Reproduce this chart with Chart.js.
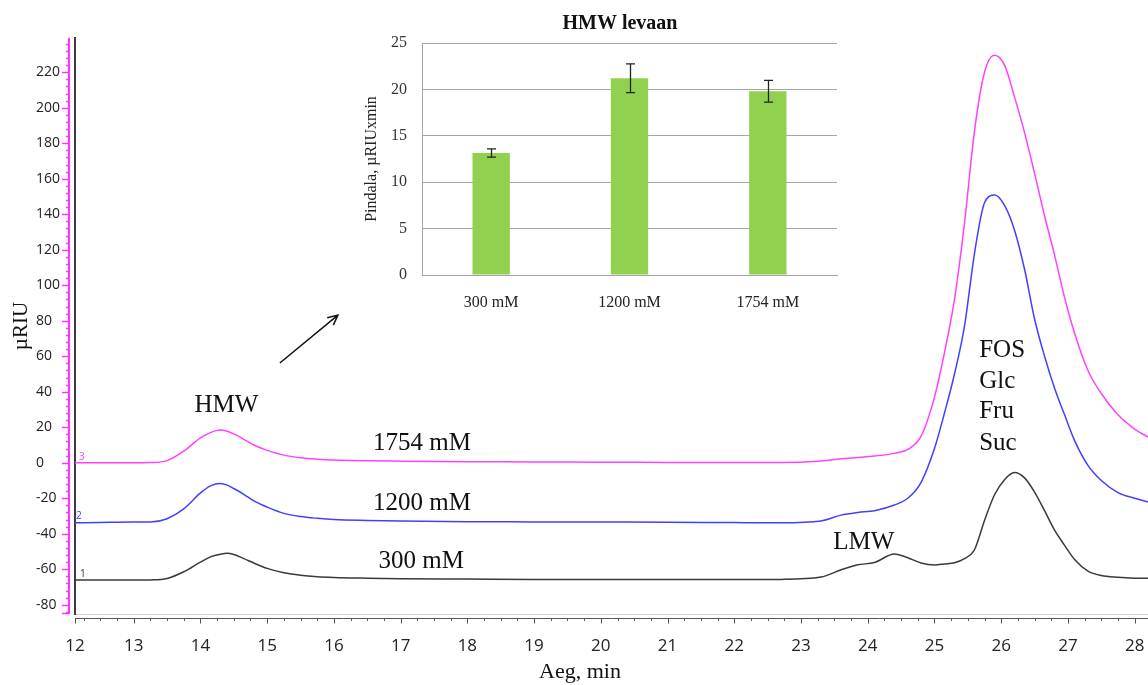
<!DOCTYPE html>
<html>
<head>
<meta charset="utf-8">
<script src="https://cdn.jsdelivr.net/npm/chart.js@4.4.1/dist/chart.umd.min.js"></script>
<style>
  html, body { margin: 0; padding: 0; background: #fff; }
  #wrap { position: relative; width: 1148px; height: 685px; overflow: hidden; }
  #main { position: absolute; left: 0; top: 0; }
  #inset { position: absolute; left: 340px; top: 0; }
</style>
</head>
<body>
<div id="wrap">
  <canvas id="main" width="1148" height="685"></canvas>
  <canvas id="inset" width="520" height="320"></canvas>
</div>
<script>
// --- chromatogram data (retention time, min / signal, µRIU) ---
const times = [12.12, 12.5, 13.0, 13.25, 13.5, 13.75, 14.0, 14.15, 14.3, 14.4, 14.5, 14.65, 14.8, 15.0,
    15.25, 15.5, 15.75, 16.0, 16.5, 17, 18, 19, 20, 21, 22, 22.7, 23.3, 23.6, 23.85, 24.1, 24.4,
    24.6, 24.8, 25.0, 25.15, 25.3, 25.45, 25.6, 25.75, 25.9, 26.05, 26.2, 26.35, 26.5, 26.65,
    26.8, 26.95, 27.1, 27.3, 27.5, 27.75, 28.0, 28.2];

const trace1754 = [0, 0, 0, 0.1, 1.2, 6.5, 14, 17, 18.4, 17.8, 16.3, 13.2, 10, 7,
    4.3, 2.8, 2.0, 1.5, 1.1, 0.9, 0.6, 0.5, 0.3, 0.2, 0.1, 0.1, 1.0, 2.3, 3.0, 3.8, 5.3,
    7.5, 15, 37, 62, 92, 135, 187, 220, 229.6, 224, 206, 186, 163, 139,
    117, 93, 73, 52, 39, 27, 19, 14.5];

const trace1200 = [-33.8, -33.6, -33.4, -33.4, -31.5, -26, -17, -13, -11.7, -12.6, -14.5, -17.8, -21.5, -25,
    -28.5, -30.3, -31.3, -32, -32.5, -32.8, -33.2, -33.3, -33.4, -33.5, -33.7, -33.8, -32.8, -29.5, -28, -27, -23.8,
    -20, -11, 8, 28, 50, 77, 118, 146.5, 150.8, 145, 131, 109, 81, 60,
    42, 27, 12.5, -1.5, -10, -16.8, -20, -22];

const trace300 = [-66.1, -66.1, -66.1, -66.0, -65.2, -61.4, -56, -53, -51.5, -51.0, -51.7, -54.0, -56.5, -59.5,
    -62, -63.4, -64.2, -64.6, -65, -65.3, -65.5, -65.7, -65.8, -65.8, -65.8, -65.7, -64.4, -60.3, -57.5, -56.2, -51.4,
    -53.5, -56.5, -57.6, -57, -56.3, -54, -49, -32.5, -18, -9.5, -5.5, -8.5, -16.5, -27,
    -38, -46.5, -54.5, -61, -63.5, -64.5, -65, -65.1];

const xTicks = [13, 14, 15, 16, 17, 18, 19, 20, 21, 22, 23, 24, 25, 26, 27, 28];

// --- inset: HMW levan peak area ---
const insetLabels = ['300 mM', '1200 mM', '1754 mM'];
const insetArea = [13.15, 21.2, 19.8];
const insetErr = [0.45, 1.55, 1.18];

const serif = 'Liberation Serif, Times New Roman, serif';
const sans = 'Open Sans, Segoe UI, sans-serif';

// text labels placed in data coordinates (min, µRIU)
const notes = [
    { text: 'HMW', t: 14.39, v: 28.6, align: 'center' },
    { text: '1754 mM', t: 17.32, v: 7.2, align: 'center' },
    { text: '1200 mM', t: 17.32, v: -26.6, align: 'center' },
    { text: '300 mM', t: 17.31, v: -59.3, align: 'center' },
    { text: 'LMW', t: 23.94, v: -48.6, align: 'center' },
    { text: 'FOS', t: 25.67, v: 59.5, align: 'left' },
    { text: 'Glc', t: 25.67, v: 42.2, align: 'left' },
    { text: 'Fru', t: 25.67, v: 25.2, align: 'left' },
    { text: 'Suc', t: 25.67, v: 7.2, align: 'left' }
];

const toPoints = arr => times.map((t, i) => ({ x: t, y: arr[i] }));

// axis decorations, annotations and arrow
const decor = {
    id: 'decor',
    afterDraw(chart) {
        const { ctx, chartArea: a, scales: { x, y } } = chart;
        ctx.save();

        // magenta signal axis
        const ax = a.left - 6;
        ctx.strokeStyle = '#ff33ff';
        ctx.lineWidth = 2;
        ctx.beginPath();
        ctx.moveTo(ax, a.top);
        ctx.lineTo(ax, a.bottom);
        ctx.stroke();
        ctx.lineWidth = 1.5;
        for (let v = -84; v <= 236; v += 4) {
            const py = Math.round(y.getPixelForValue(v)) + 0.5;
            const len = v % 20 === 0 ? 7 : 3;
            ctx.beginPath();
            ctx.moveTo(ax - len, py);
            ctx.lineTo(ax, py);
            ctx.stroke();
        }
        ctx.beginPath();
        ctx.moveTo(ax - 7, a.bottom - 0.5);
        ctx.lineTo(ax, a.bottom - 0.5);
        ctx.stroke();

        // time axis below the plot
        const by = a.bottom + 4.5;
        ctx.strokeStyle = '#555';
        ctx.lineWidth = 1;
        ctx.beginPath();
        ctx.moveTo(a.left, by);
        ctx.lineTo(a.right, by);
        ctx.stroke();
        const tickAt = (t, len) => {
            const px = Math.round(x.getPixelForValue(t)) + 0.5;
            ctx.beginPath();
            ctx.moveTo(px, by);
            ctx.lineTo(px, by + len);
            ctx.stroke();
        };
        tickAt(x.min, 5);
        for (let t = 12.25; t <= x.max; t += 0.25) {
            tickAt(t, Math.abs(t - Math.round(t)) < 0.01 ? 5 : 2.5);
        }

        // trace numbers
        ctx.font = '10px ' + sans;
        ctx.textAlign = 'left';
        ctx.textBaseline = 'alphabetic';
        [['3', '#ff40ff', 0, 3], ['2', '#4040ff', -33.5, 0], ['1', '#333', -66, 4]].forEach(([s, c, v, dx]) => {
            ctx.fillStyle = c;
            ctx.fillText(s, a.left + 1 + dx, y.getPixelForValue(v) - 3);
        });

        // annotations
        ctx.fillStyle = '#111';
        ctx.font = '25px ' + serif;
        notes.forEach(n => {
            ctx.textAlign = n.align;
            ctx.fillText(n.text, x.getPixelForValue(n.t), y.getPixelForValue(n.v));
        });

        // arrow pointing to the inset
        const x1 = x.getPixelForValue(15.19), y1 = y.getPixelForValue(56.2);
        const x2 = x.getPixelForValue(16.06), y2 = y.getPixelForValue(83.2);
        const ang = Math.atan2(y2 - y1, x2 - x1);
        ctx.strokeStyle = '#111';
        ctx.lineWidth = 1.5;
        ctx.beginPath();
        ctx.moveTo(x1, y1);
        ctx.lineTo(x2, y2);
        ctx.moveTo(x2 - 11 * Math.cos(ang - 0.45), y2 - 11 * Math.sin(ang - 0.45));
        ctx.lineTo(x2, y2);
        ctx.lineTo(x2 - 11 * Math.cos(ang + 0.45), y2 - 11 * Math.sin(ang + 0.45));
        ctx.stroke();

        // axis titles
        ctx.font = '22px ' + serif;
        ctx.textAlign = 'center';
        ctx.fillText('Aeg, min', 580, 678);
        ctx.translate(27, (a.top + a.bottom) / 2);
        ctx.rotate(-Math.PI / 2);
        ctx.font = '21px ' + serif;
        ctx.fillText('µRIU', 0, 0);
        ctx.restore();
    }
};

new Chart(document.getElementById('main'), {
    type: 'line',
    data: {
        datasets: [
            { label: '1754 mM', data: toPoints(trace1754), borderColor: '#ff40ff' },
            { label: '1200 mM', data: toPoints(trace1200), borderColor: '#4040ff' },
            { label: '300 mM', data: toPoints(trace300), borderColor: '#3a3a3a' }
        ]
    },
    options: {
        responsive: false,
        animation: false,
        layout: { padding: { left: 36, top: 38, right: 0, bottom: 0 } },
        plugins: { legend: { display: false }, tooltip: { enabled: false } },
        elements: {
            point: { radius: 0 },
            line: { borderWidth: 1.5, cubicInterpolationMode: 'monotone' }
        },
        scales: {
            x: {
                type: 'linear',
                min: 12.12,
                max: 28.2,
                afterFit: s => { s.height = 71; s.paddingLeft = 0; s.paddingRight = 0; },
                afterBuildTicks: s => { s.ticks = [s.min].concat(xTicks).map(v => ({ value: v })); },
                grid: { display: false, drawTicks: false },
                border: { display: true, color: '#d9d0c1', width: 1 },
                ticks: {
                    autoSkip: false, maxRotation: 0, padding: 22,
                    color: '#222', font: { family: sans, size: 17 },
                    callback: v => Math.round(v)
                }
            },
            y: {
                min: -85.2,
                max: 239.3,
                afterFit: s => { s.width = 39; },
                grid: { display: false, drawTicks: false },
                border: { display: true, color: '#3c3c3c', width: 2 },
                ticks: {
                    stepSize: 20, includeBounds: false, crossAlign: 'far',
                    color: '#222', font: { family: sans, size: 14 }
                }
            }
        }
    },
    plugins: [decor]
});

// error bars and title for the inset
const insetDecor = {
    id: 'insetDecor',
    afterDatasetsDraw(chart) {
        const { ctx, chartArea: a, scales: { y } } = chart;
        const meta = chart.getDatasetMeta(0);
        ctx.save();
        ctx.strokeStyle = '#222';
        ctx.lineWidth = 1.3;
        meta.data.forEach((bar, i) => {
            const top = y.getPixelForValue(insetArea[i] + insetErr[i]);
            const bot = y.getPixelForValue(insetArea[i] - insetErr[i]);
            const bx = Math.round(bar.x) + 0.5;
            ctx.beginPath();
            ctx.moveTo(bx, top); ctx.lineTo(bx, bot);
            ctx.moveTo(bx - 4.5, top); ctx.lineTo(bx + 4.5, top);
            ctx.moveTo(bx - 4.5, bot); ctx.lineTo(bx + 4.5, bot);
            ctx.stroke();
        });
        ctx.fillStyle = '#111';
        ctx.font = 'bold 20px ' + serif;
        ctx.textAlign = 'center';
        ctx.textBaseline = 'middle';
        ctx.fillText('HMW levaan', a.left + (a.right - a.left) * 0.477, 24);
        ctx.restore();
    }
};

new Chart(document.getElementById('inset'), {
    type: 'bar',
    data: {
        labels: insetLabels,
        datasets: [{
            data: insetArea,
            backgroundColor: '#92d050',
            barPercentage: 0.27,
            categoryPercentage: 1
        }]
    },
    options: {
        responsive: false,
        animation: false,
        layout: { padding: { top: 43, right: 23 } },
        plugins: { legend: { display: false }, tooltip: { enabled: false } },
        scales: {
            x: {
                afterFit: s => { s.height = 45; },
                grid: { display: false, drawTicks: false },
                border: { color: '#a6a6a6' },
                ticks: { padding: 18, color: '#222', font: { family: serif, size: 16 } }
            },
            y: {
                min: 0,
                max: 25,
                afterFit: s => { s.width = 82; },
                grid: { color: '#a6a6a6', drawTicks: false },
                border: { color: '#a6a6a6' },
                ticks: { stepSize: 5, padding: 15, color: '#333', font: { family: serif, size: 16 } },
                title: {
                    display: true, text: 'Pindala, µRIUxmin', color: '#222',
                    font: { family: serif, size: 16 }, padding: { top: 22 }
                }
            }
        }
    },
    plugins: [insetDecor]
});
</script>
</body>
</html>
